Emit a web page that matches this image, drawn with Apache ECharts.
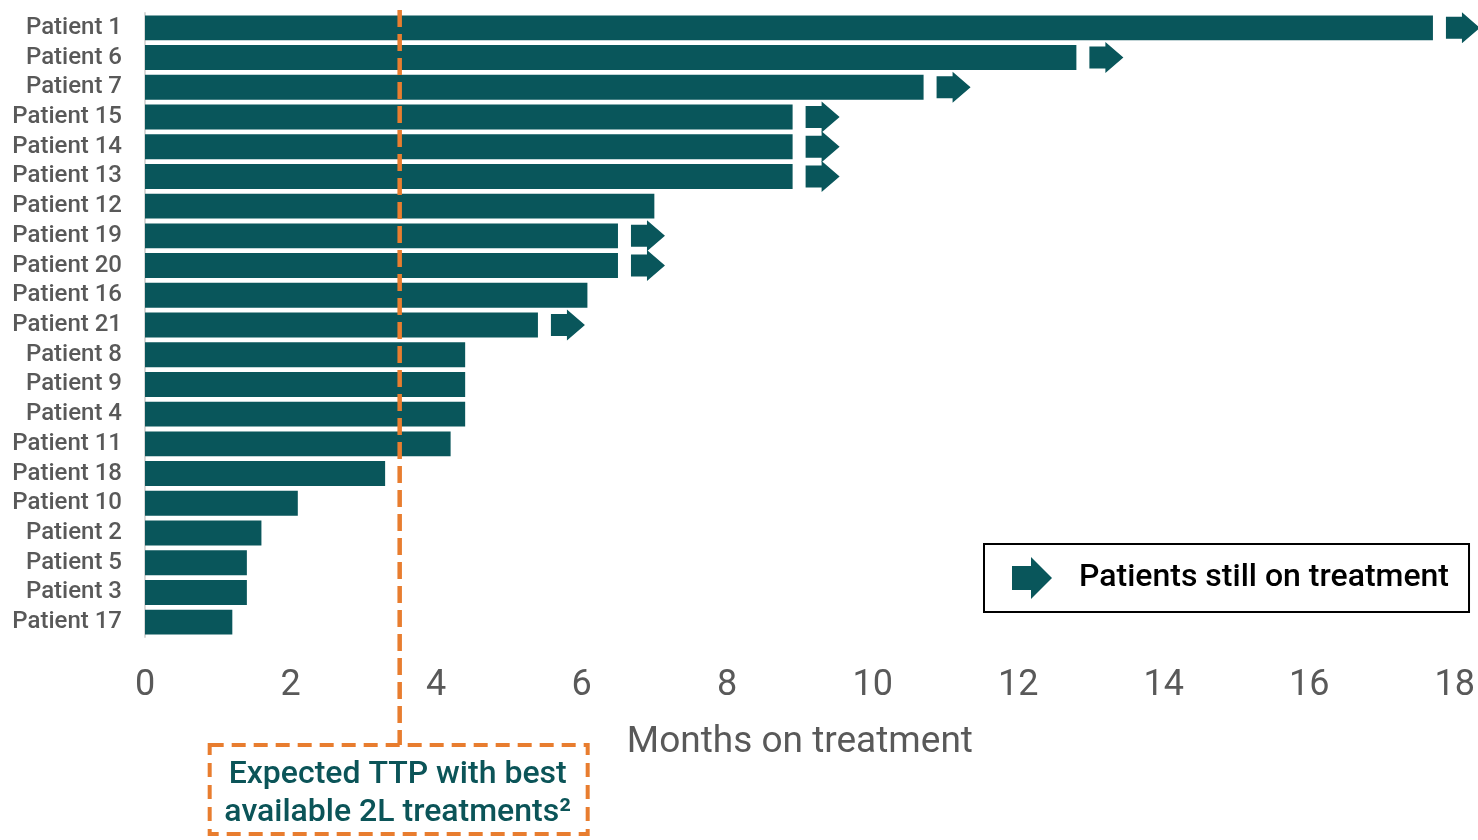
<!DOCTYPE html>
<html>
<head>
<meta charset="utf-8">
<script src="https://cdn.jsdelivr.net/npm/echarts@6/dist/echarts.min.js"></script>
<style>
html,body{margin:0;padding:0;background:#fff;}
#chart{width:1478px;height:840px;}
</style>
</head>
<body>
<div id="chart"></div>
<script>
const categories = ['Patient 1','Patient 6','Patient 7','Patient 15','Patient 14','Patient 13','Patient 12','Patient 19','Patient 20','Patient 16','Patient 21','Patient 8','Patient 9','Patient 4','Patient 11','Patient 18','Patient 10','Patient 2','Patient 5','Patient 3','Patient 17'];
const monthsOnTreatment = [17.7, 12.8, 10.7, 8.9, 8.9, 8.9, 7.0, 6.5, 6.5, 6.08, 5.4, 4.4, 4.4, 4.4, 4.2, 3.3, 2.1, 1.6, 1.4, 1.4, 1.2];
const stillOnTreatment = [true, true, true, true, true, true, false, true, true, false, true, false, false, false, false, false, false, false, false, false, false];
const expectedTTP = [3.5];
const xMin = 0, xMax = 18, xInterval = 2;
const legendLabel = 'Patients still on treatment';
const boxText = 'Expected TTP with best\navailable 2L treatments\u00B2';
const axisTitle = 'Months on treatment';

const TEAL = '#09565B';
const ORANGE = '#E87D2F';
const GREY = '#595959';
const FONT = 'Roboto, "Noto Sans", sans-serif';
const arrowPath = 'path://M0,4.5 L16,4.5 L16,0 L34,15.5 L16,31 L16,26.5 L0,26.5 Z';
const legendArrowPath = 'path://M0,9 L19,9 L19,0 L40,21 L19,42 L19,33 L0,33 Z';

const arrowData = [];
categories.forEach((c, i) => { if (stillOnTreatment[i]) arrowData.push([monthsOnTreatment[i], c]); });

const chart = echarts.init(document.getElementById('chart'), null, {renderer: 'canvas'});
chart.setOption({
  animation: false,
  backgroundColor: '#fff',
  textStyle: {fontFamily: FONT},
  grid: {left: 145, right: 22, top: 13, bottom: 203, containLabel: false},
  legend: {
    data: [legendLabel],
    left: 984, top: 544,
    padding: [13, 20, 13, 28],
    borderColor: '#000', borderWidth: 2,
    itemWidth: 40, itemHeight: 42,
    icon: legendArrowPath,
    textStyle: {fontSize: 32, fontWeight: 500, color: '#000', fontFamily: FONT, padding: [0, 0, 0, 22]}
  },
  xAxis: {
    type: 'value', min: xMin, max: xMax, interval: xInterval,
    axisLine: {show: false}, axisTick: {show: false}, splitLine: {show: false},
    axisLabel: {fontSize: 36, color: GREY, margin: 31, fontFamily: FONT},
    name: axisTitle, nameLocation: 'middle', nameGap: 87,
    nameTextStyle: {fontSize: 37, color: GREY, fontFamily: FONT}
  },
  yAxis: {
    type: 'category', data: categories, inverse: true,
    axisLine: {show: true, lineStyle: {color: '#d9d9d9', width: 2}},
    axisTick: {show: false},
    axisLabel: {interval: 0, fontSize: 24, fontWeight: 500, color: GREY, margin: 23, fontFamily: FONT, padding: [8, 0, 0, 0]}
  },
  series: [
    {
      type: 'bar', data: monthsOnTreatment, barWidth: '84%',
      itemStyle: {color: TEAL}, z: 2
    },
    {
      name: legendLabel, type: 'scatter', data: arrowData,
      symbol: arrowPath, symbolSize: [34, 31], symbolOffset: [30, 0],
      itemStyle: {color: TEAL, opacity: 1}, z: 3
    },
    {
      type: 'custom', data: expectedTTP.map(v => [v]), clip: false, z: 5,
      encode: {x: 0},
      renderItem: function (params, api) {
        const x = api.coord([api.value(0), categories[0]])[0];
        const cs = params.coordSys;
        const top = cs.y - 3;
        const bottom = cs.y + cs.height + 108;
        return {
          type: 'group',
          children: [
            {type: 'line', shape: {x1: x, y1: top, x2: x, y2: bottom},
             style: {stroke: ORANGE, lineWidth: 4.5, lineDash: [17, 7]}},
            {type: 'rect', shape: {x: x - 190, y: bottom, width: 378, height: 89},
             style: {fill: 'none', stroke: ORANGE, lineWidth: 4, lineDash: [14, 8]}},
            {type: 'text', x: x - 2, y: bottom + 49,
             style: {text: boxText, fill: '#0B5458', fontSize: 32, fontWeight: 500,
                     fontFamily: FONT, align: 'center', verticalAlign: 'middle', lineHeight: 38}}
          ]
        };
      }
    }
  ]
});
</script>
</body>
</html>
